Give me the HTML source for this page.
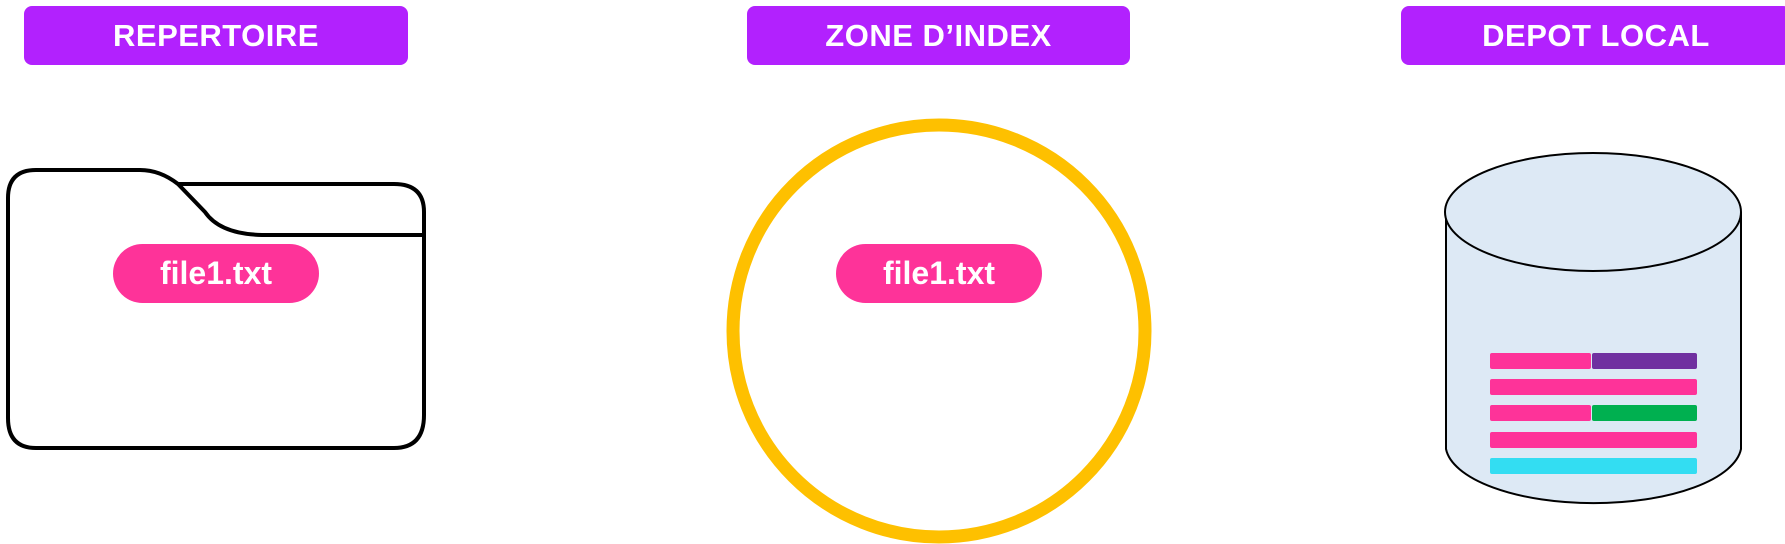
<!DOCTYPE html>
<html><head><meta charset="utf-8"><style>
body{margin:0;width:1785px;height:544px;background:#fff;position:relative;overflow:hidden;font-family:"Liberation Sans",sans-serif}
.h{position:absolute;top:6px;height:59px;background:#b221fe;border-radius:8px;color:#fff;font-size:31px;font-weight:bold;display:flex;align-items:center;justify-content:center;letter-spacing:0.5px}
.p{position:absolute;top:244px;height:59px;width:206px;background:#fe3399;border-radius:30px;color:#fff;font-size:32px;font-weight:bold;display:flex;align-items:center;justify-content:center}
</style></head><body>
<div class="h" style="left:24px;width:384px">REPERTOIRE</div>
<div class="h" style="left:747px;width:383px">ZONE D’INDEX</div>
<div class="h" style="left:1401px;width:390px">DEPOT LOCAL</div>
<svg width="1785" height="544" style="position:absolute;left:0;top:0">
<path d="M36 170 H140 Q160 170 178 184 L205 212 Q220 234 262 235 H424 V415 Q424 448 394 448 H36 Q8 448 8 418 V198 Q8 170 36 170 Z M178 184 H394 Q424 184 424 212 V235" fill="none" stroke="#000" stroke-width="4"/>
<circle cx="939" cy="331" r="206" fill="none" stroke="#fec000" stroke-width="13"/>
<path d="M1446 212 V449 A148 59 0 0 0 1741 449 V212" fill="#dde9f5" stroke="#000" stroke-width="2"/>
<ellipse cx="1593" cy="212" rx="148" ry="59" fill="#dde9f5" stroke="#000" stroke-width="2"/>
<g>
<rect x="1490" y="353" width="101" height="16" rx="2" fill="#fe3399"/><rect x="1592" y="353" width="105" height="16" rx="2" fill="#7030a0"/>
<rect x="1490" y="379" width="207" height="16" rx="2" fill="#fe3399"/>
<rect x="1490" y="405" width="101" height="16" rx="2" fill="#fe3399"/><rect x="1592" y="405" width="105" height="16" rx="2" fill="#00b050"/>
<rect x="1490" y="432" width="207" height="16" rx="2" fill="#fe3399"/>
<rect x="1490" y="458" width="207" height="16" rx="2" fill="#33ddf2"/>
</g>
</svg>
<div class="p" style="left:113px">file1.txt</div>
<div class="p" style="left:836px">file1.txt</div>
</body></html>
